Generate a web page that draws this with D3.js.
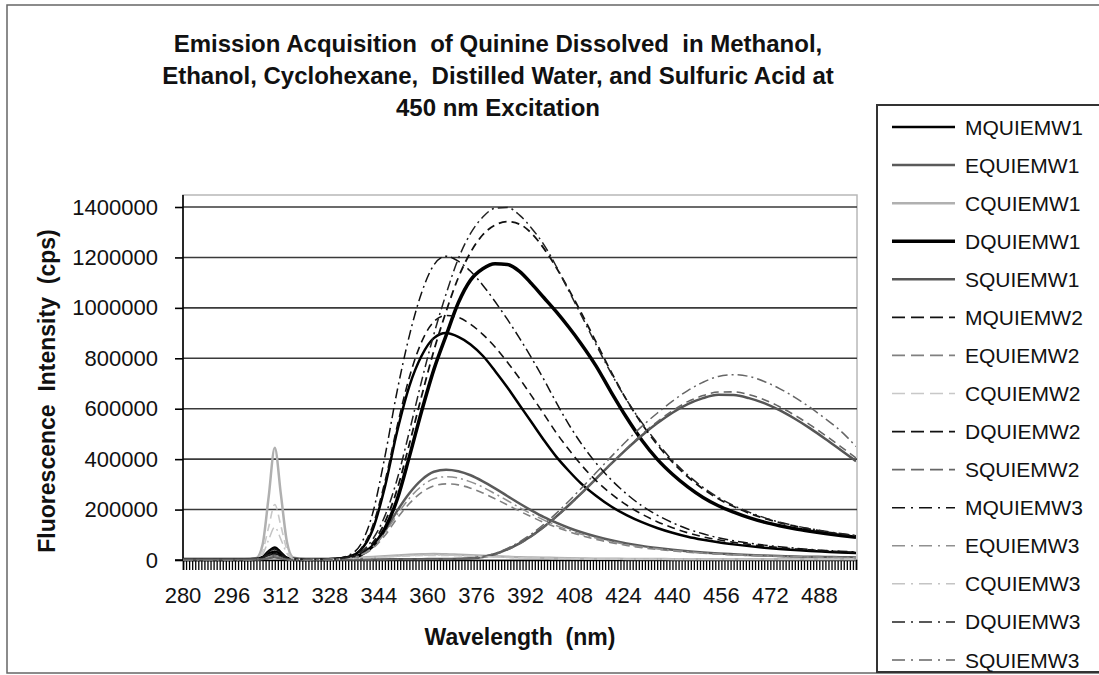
<!DOCTYPE html>
<html>
<head>
<meta charset="utf-8">
<script src="https://cdn.jsdelivr.net/npm/d3@7"></script>
<style>
  body { margin: 0; background: #fff; }
  text { font-family: "Liberation Sans", Arial, sans-serif; fill: #111; }
</style>
</head>
<body>
<script>
const width = 1099;
const height = 675;

// wavelength sample points (nm)
const wavelengths = [280, 290, 300, 304, 306, 308, 310, 312, 314, 316, 320, 325,
  330, 334, 338, 342, 346, 350, 354, 358, 362, 366, 370, 374, 378, 382, 386, 390,
  394, 398, 402, 406, 410, 415, 420, 425, 430, 435, 440, 445, 450, 455, 460, 465,
  470, 475, 480, 485, 490, 495, 500];

// intensities, in thousands of cps
const MQUIEMW1 = [3,3,3,4,12,35,50,30,8,4,3,3, 5,12,38,120,290,510,690,810,880,900,885,855,810,750,685,615,
  545,475,410,355,305,255,212,178,150,127,108,92,80,70,62,55, 49,44,40,36,33,30,28];
const EQUIEMW1 = [2,2,2,2,6,15,20,13,4,2,2,2, 3,7,20,55,115,195,265,318,350,358,352,336,312,284,254,224,
  196,170,148,128,111,93,78,66,56,48,41,35,30,26,23,20, 18,16,14,13,12,11,10];
const CQUIEMW1 = [3,3,3,8,60,250,445,260,70,10,3,3, 4,6,9,12,15,18,21,23,24,23,21,19,17,15,13,11,
  10,9,8,7,6,5,5,4,4,4,3,3,3,3,3,3, 3,3,3,3,3,3,3];
const DQUIEMW1 = [2,2,2,3,8,22,32,20,6,3,2,2, 3,7,20,55,125,240,410,590,755,890,1020,1110,1155,1175,1172,1145,
  1095,1040,985,925,860,770,665,565,475,400,340,290,248,215,190,168, 150,136,124,114,105,97,90];
const SQUIEMW1 = [2,2,2,2,4,8,12,7,3,2,2,2, 2,2,2,2,2,3,3,3,4,4,5,7,12,24,42,66,
  96,132,172,216,262,322,382,440,494,542,584,618,642,655,654,642, 622,594,560,522,480,436,392];

const MQUIEMW2 = [3,3,3,4,10,30,44,26,7,4,3,3, 5,13,42,135,310,530,725,865,945,970,962,935,895,845,785,720,
  650,578,505,440,380,315,262,218,182,152,128,108,92,80,70,62, 55,49,44,40,36,33,30];
const EQUIEMW2 = [2,2,2,2,5,12,16,10,3,2,2,2, 3,6,17,46,97,165,224,268,294,302,298,285,266,243,219,194,
  171,149,130,113,98,82,69,58,49,42,36,31,27,23,20,18, 16,14,13,12,11,10,9];
const CQUIEMW2 = [2,2,2,5,35,130,220,135,40,6,2,2, 3,5,7,9,12,14,16,18,18,18,17,15,13,12,10,9,
  8,7,6,6,5,4,4,3,3,3,3,3,3,3,3,3, 3,3,3,3,3,3,3];
const DQUIEMW2 = [2,2,2,3,6,18,26,16,5,3,2,2, 3,8,24,68,150,280,460,650,830,985,1120,1220,1290,1328,1342,1332,
  1295,1235,1160,1075,985,865,745,635,540,458,388,330,282,243,212,186, 165,148,134,122,112,103,96];
const SQUIEMW2 = [2,2,2,2,4,7,10,6,3,2,2,2, 2,2,2,2,2,3,3,3,3,4,4,6,11,22,40,64,
  94,130,170,214,260,320,382,442,498,548,592,628,652,666,667,656, 636,608,574,536,494,450,405];

const MQUIEMW3 = [4,4,4,5,11,32,46,28,8,4,4,4, 6,18,60,185,410,670,890,1060,1170,1205,1185,1145,1090,1025,955,880,
  800,715,625,540,465,385,318,262,215,178,148,123,104,88,76,67, 59,53,47,42,38,35,32];
const EQUIEMW3 = [2,2,2,2,5,13,18,11,3,2,2,2, 3,7,19,51,107,180,245,293,322,330,325,310,289,263,236,208,
  182,158,137,119,103,87,73,61,52,45,38,33,28,24,21,19, 17,15,13,12,11,10,9];
const CQUIEMW3 = [2,2,2,4,22,80,130,82,25,5,2,2, 3,5,7,10,12,15,17,19,20,19,18,16,14,12,11,9,
  8,7,6,6,5,4,4,3,3,3,3,3,3,3,3,3, 3,3,3,3,3,3,3];
const DQUIEMW3 = [3,3,3,3,7,20,28,17,5,3,3,3, 4,10,30,82,175,320,510,710,895,1055,1195,1295,1360,1395,1398,1368,
  1315,1250,1165,1070,975,855,740,635,545,465,395,337,288,248,216,190, 168,150,136,124,114,105,98];
const SQUIEMW3 = [2,2,2,2,4,7,10,6,3,2,2,2, 2,2,2,2,2,3,3,3,3,4,5,7,13,26,46,72,
  104,142,185,232,282,346,410,472,530,582,630,672,705,728,735,728, 708,680,645,605,560,512,450];

const seriesNames = ['MQUIEMW1','EQUIEMW1','CQUIEMW1','DQUIEMW1','SQUIEMW1',
  'MQUIEMW2','EQUIEMW2','CQUIEMW2','DQUIEMW2','SQUIEMW2',
  'MQUIEMW3','EQUIEMW3','CQUIEMW3','DQUIEMW3','SQUIEMW3'];
const seriesValues = [MQUIEMW1, EQUIEMW1, CQUIEMW1, DQUIEMW1, SQUIEMW1,
  MQUIEMW2, EQUIEMW2, CQUIEMW2, DQUIEMW2, SQUIEMW2,
  MQUIEMW3, EQUIEMW3, CQUIEMW3, DQUIEMW3, SQUIEMW3];

const xTickLabels = [280, 296, 312, 328, 344, 360, 376, 392, 408, 424, 440, 456, 472, 488];
const yTickValues = [0, 200, 400, 600, 800, 1000, 1200, 1400];

// line styles (grey shades, solid / dashed / dash-dot)
const styles = [
  {c:'#000', w:2.5, d:null}, {c:'#5a5a5a', w:2.5, d:null}, {c:'#b0b0b0', w:2.5, d:null},
  {c:'#000', w:3.5, d:null}, {c:'#555', w:2.5, d:null},
  {c:'#111', w:1.6, d:'8,5'}, {c:'#808080', w:1.6, d:'8,5'}, {c:'#c8c8c8', w:1.6, d:'8,5'},
  {c:'#111', w:1.8, d:'8,5'}, {c:'#666', w:1.6, d:'8,5'},
  {c:'#111', w:1.5, d:'10,4,2,4'}, {c:'#909090', w:1.5, d:'10,4,2,4'}, {c:'#c4c4c4', w:1.5, d:'10,4,2,4'},
  {c:'#222', w:1.5, d:'10,4,2,4'}, {c:'#666', w:1.5, d:'10,4,2,4'}
];

const svg = d3.select('body').append('svg')
  .attr('width', width)
  .attr('height', height);

// chart frame
svg.append('rect').attr('x', 7).attr('y', 5).attr('width', 1110).attr('height', 668)
  .attr('fill', 'none').attr('stroke', '#666').attr('stroke-width', 1.5);

const plot = {left: 183, right: 856, top: 195, bottom: 560};

const x = d3.scaleLinear().domain([280, 500]).range([plot.left, plot.right]);
const y = d3.scaleLinear().domain([0, 1400]).range([plot.bottom, 207]);

// plot area border
svg.append('rect').attr('x', plot.left).attr('y', plot.top)
  .attr('width', plot.right - plot.left + 1).attr('height', plot.bottom - plot.top)
  .attr('fill', 'none').attr('stroke', '#b8b8b8').attr('stroke-width', 1.5);

// gridlines
svg.append('g').selectAll('line').data(yTickValues.slice(1)).enter().append('line')
  .attr('x1', plot.left).attr('x2', plot.right + 1)
  .attr('y1', d => y(d)).attr('y2', d => y(d))
  .attr('stroke', '#3a3a3a').attr('stroke-width', 1.6);

// y axis
const yAxis = d3.axisLeft(y).tickValues(yTickValues).tickSize(8).tickPadding(17)
  .tickFormat(d => String(d * 1000));
const gy = svg.append('g').attr('transform', `translate(${plot.left},0)`).call(yAxis);
gy.select('.domain').attr('d', `M-8,${plot.bottom}H0V${plot.top}`).attr('stroke', '#000').attr('stroke-width', 1.6);
gy.selectAll('.tick line').attr('stroke', '#000').attr('stroke-width', 1.6);
gy.selectAll('.tick text').attr('font-size', 22).attr('font-family', '"Liberation Sans", Arial, sans-serif').attr('fill', '#111');

// x axis: a tick every nm, a label every 16 nm
const xAxis = d3.axisBottom(x).tickValues(d3.range(280, 501)).tickSize(10).tickFormat('');
const gx = svg.append('g').attr('transform', `translate(0,${plot.bottom})`).call(xAxis);
gx.select('.domain').attr('stroke', '#000').attr('stroke-width', 1.6);
gx.selectAll('.tick line').attr('stroke', '#000').attr('stroke-width', 1.3);

svg.append('g').selectAll('text').data(xTickLabels).enter().append('text')
  .attr('x', d => x(d)).attr('y', 603)
  .attr('text-anchor', 'middle').attr('font-size', 22)
  .text(d => d);

// series
svg.append('clipPath').attr('id', 'clip').append('rect')
  .attr('x', plot.left).attr('y', plot.top).attr('width', plot.right - plot.left).attr('height', plot.bottom - plot.top + 2);

const line = d3.line()
  .x((d, i) => x(wavelengths[i]))
  .y(d => y(d))
  .curve(d3.curveMonotoneX);

svg.append('g').attr('clip-path', 'url(#clip)')
  .selectAll('path').data(seriesValues).enter().append('path')
  .attr('d', d => line(d))
  .attr('fill', 'none')
  .attr('stroke', (d, i) => styles[i].c)
  .attr('stroke-width', (d, i) => styles[i].w)
  .attr('stroke-dasharray', (d, i) => styles[i].d)
  .attr('stroke-linejoin', 'round');

// title
const titleLines = ['Emission Acquisition  of Quinine Dissolved  in Methanol,',
  'Ethanol, Cyclohexane,  Distilled Water, and Sulfuric Acid at',
  '450 nm Excitation'];
svg.append('g').selectAll('text').data(titleLines).enter().append('text')
  .attr('x', 498).attr('y', (d, i) => 52 + i * 32)
  .attr('text-anchor', 'middle').attr('font-size', 24).attr('font-weight', 'bold')
  .style('white-space', 'pre')
  .text(d => d);

// axis titles
svg.append('text').attr('x', 520).attr('y', 645)
  .attr('text-anchor', 'middle').attr('font-size', 23).attr('font-weight', 'bold')
  .style('white-space', 'pre').text('Wavelength  (nm)');
svg.append('text').attr('transform', 'translate(55,391) rotate(-90)')
  .attr('text-anchor', 'middle').attr('font-size', 23).attr('font-weight', 'bold')
  .style('white-space', 'pre').text('Fluorescence  Intensity  (cps)');

// legend
const legend = svg.append('g');
legend.append('rect').attr('x', 877).attr('y', 105).attr('width', 240).attr('height', 567)
  .attr('fill', '#fff').attr('stroke', '#333').attr('stroke-width', 2);
const items = legend.selectAll('g.item').data(seriesNames).enter().append('g')
  .attr('class', 'item')
  .attr('transform', (d, i) => `translate(0,${127 + i * 38.07})`);
items.append('line').attr('x1', 892).attr('x2', 955).attr('y1', 0).attr('y2', 0)
  .attr('stroke', (d, i) => styles[i].c)
  .attr('stroke-width', (d, i) => styles[i].w)
  .attr('stroke-dasharray', (d, i) => styles[i].d ? (styles[i].d === '8,5' ? '13,6' : '13,6,2,6') : null);
items.append('text').attr('x', 965).attr('y', 0).attr('dy', '0.36em')
  .attr('font-size', 21).text(d => d);
</script>
</body>
</html>
